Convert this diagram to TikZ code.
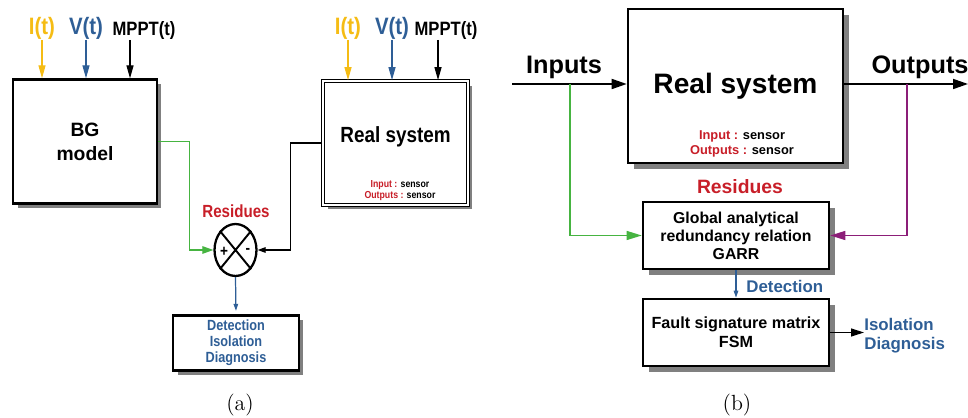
\documentclass[tikz,border=0pt]{standalone}
\usepackage{fontspec}
\newfontfamily\arialf{Liberation Sans}
\newfontfamily\narrowf[FakeStretch=0.86]{Liberation Sans}
\usetikzlibrary{arrows.meta,shadows,shapes.geometric}

\definecolor{ivolt}{RGB}{245,188,20}
\definecolor{vvolt}{RGB}{46,94,150}
\definecolor{resred}{RGB}{200,30,40}
\definecolor{gline}{RGB}{70,180,65}
\definecolor{pline}{RGB}{140,30,120}

\tikzset{
  blk/.style={draw, line width=1.3pt, fill=white, align=center, inner sep=0pt},
  shda/.style={drop shadow={shadow xshift=0.09cm, shadow yshift=-0.09cm, fill=black!50, opacity=1}},
  shdb/.style={drop shadow={shadow xshift=0.12cm, shadow yshift=-0.12cm, fill=black!50, opacity=1}},
  sig/.style={anchor=south, inner sep=0pt},
  conn/.style={line width=0.7pt},
  tipa/.style={-{Triangle[length=0.26cm, width=0.14cm]}},
  tipb/.style={-{Triangle[length=0.3cm, width=0.2cm]}},
  tips/.style={-{Triangle[length=0.14cm, width=0.09cm]}},
  fa/.style={font=\narrowf\bfseries\fontsize{#1}{#1}\selectfont},
  fb/.style={font=\arialf\bfseries\fontsize{#1}{#1}\selectfont}
}

\begin{document}
\begin{tikzpicture}[x=0.02cm, y=-0.02cm]
\useasboundingbox (0,0) rectangle (968,418);

% ---- (a) ----
\node[blk, shda, minimum width=2.88cm, minimum height=2.48cm,
  font=\arialf\bfseries\fontsize{11}{13.7}\selectfont] (bg) at (85,141.5) {BG\\model};
\node[blk, shda, minimum width=2.9cm, minimum height=2.48cm, line width=1pt,
  double=white, double distance=0.6pt, fa=12.5] (rsa) at (395.5,143) {Real system\\[-0.1cm]~};
\node[fa=5.8, inner sep=0pt] (ina) at (400,185) {\textcolor{resred}{Input :} sensor};
\node[fa=5.8, inner sep=0pt] (outa) at (400,196.5) {\textcolor{resred}{Outputs :} sensor};

\node[sig, fa=13.5, text=ivolt] (ia) at (42,40) {I(t)};
\node[sig, fa=13.5, text=vvolt] (va) at (86,40) {V(t)};
\node[sig, fa=11] (ma) at (144,40) {MPPT(t)};
\coordinate (mta) at ([xshift=-0.28cm]ma.south);
\draw[conn, tipa, ivolt] (ia.south) -- (ia.south |- bg.north);
\draw[conn, tipa, vvolt] (va.south) -- (va.south |- bg.north);
\draw[conn, tipa] (mta) -- (mta |- bg.north);

\node[sig, fa=13.5, text=ivolt] (ib) at (348,40) {I(t)};
\node[sig, fa=13.5, text=vvolt] (vb) at (392,40) {V(t)};
\node[sig, fa=11] (mb) at (446,40) {MPPT(t)};
\coordinate (mtb) at ([xshift=-0.16cm]mb.south);
\draw[conn, tipa, ivolt] (ib.south) -- (ib.south |- rsa.north);
\draw[conn, tipa, vvolt] (vb.south) -- (vb.south |- rsa.north);
\draw[conn, tipa] (mtb) -- (mtb |- rsa.north);

% summing junction
\node[ellipse, draw, line width=1.3pt, minimum width=0.84cm, minimum height=1.04cm,
  inner sep=0pt] (sum) at (235.5,250) {};
\draw[line width=1.1pt] (sum.north west) -- (sum.south east)
  (sum.north east) -- (sum.south west);
\node[fa=9, inner sep=0pt] (plus) at (224,252) {+};
\node[fa=9, inner sep=0pt] (minus) at (248,251) {-};
\node[fa=10, text=resred] (resa) at (236,211) {Residues};

\draw[conn, gline, -{Triangle[length=0.22cm, width=0.15cm]}] (bg.east) -- ++(31,0) |- (sum.west);
\draw[conn, -{Triangle[length=0.16cm, width=0.11cm]}] (rsa.west) -- ++(-32,0) |- (sum.east);

\node[blk, shda, minimum width=2.52cm, minimum height=1.1cm,
  text=vvolt, font=\narrowf\bfseries\fontsize{8.4}{9.1}\selectfont] (deta) at (236,343)
  {Detection\\Isolation\\Diagnosis};
\draw[conn, vvolt, tips, shorten >=2pt] (sum.south) -- (deta.north);

% ---- (b) ----
\node[blk, shdb, line width=1.5pt, minimum width=4.3cm, minimum height=3.08cm, fb=16]
  (rsb) at (735.5,86) {Real system};
\node[fb=7.3, inner sep=0pt] (inb) at (742,136) {\textcolor{resred}{Input :} sensor};
\node[fb=7.3, inner sep=0pt] (outb) at (742,151) {\textcolor{resred}{Outputs :} sensor};

\coordinate (srcb) at (512,84);
\coordinate (dstb) at (968,84);
\coordinate (tapin) at (570,84);
\coordinate (tapout) at (907,84);
\node[fb=14.4, anchor=base, inner sep=0pt] (inlbl) at (564,74) {Inputs};
\node[fb=14.4, anchor=base, inner sep=0pt] (outlbl) at (920,74) {Outputs};
\draw[line width=1pt, tipb] (srcb) -- (srcb -| rsb.west);
\draw[line width=1pt, tipb] (dstb -| rsb.east) -- (dstb);

\node[fb=11, text=resred] (resb) at (740,187) {Residues};
\node[blk, shdb, line width=1.5pt, minimum width=3.72cm, minimum height=1.34cm,
  font=\arialf\bfseries\fontsize{9}{10.3}\selectfont] (garr) at (736,235.5)
  {Global analytical\\redundancy relation\\GARR};
\node[blk, shdb, line width=1.5pt, minimum width=3.72cm, minimum height=1.34cm,
  font=\arialf\bfseries\fontsize{9.2}{10.8}\selectfont] (fsm) at (736,332.5)
  {Fault signature matrix\\FSM};

\draw[conn, gline, -{Triangle[length=0.3cm, width=0.18cm]}] (tapin) |- (garr.west);
\draw[conn, pline, -{Triangle[length=0.3cm, width=0.18cm]}] (tapout) |- (garr.east);
\draw[conn, vvolt, tips] (garr.south) -- (fsm.north);
\node[fb=9.6, text=vvolt, anchor=west, inner sep=0pt] (detb) at (746,286) {Detection};
\node[anchor=west, inner sep=0pt, align=left, text=vvolt,
  font=\arialf\bfseries\fontsize{9.6}{10.8}\selectfont] (isol) at (864,336)
  {Isolation\\Diagnosis};
\draw[conn, -{Triangle[length=0.26cm, width=0.16cm]}] (fsm.east) -- (fsm.east -| isol.west);

% captions
\node[font=\fontsize{12.5}{14}\selectfont] (capa) at (240,405) {(a)};
\node[font=\fontsize{12.5}{14}\selectfont] (capb) at (737,405) {(b)};
\end{tikzpicture}
\end{document}
